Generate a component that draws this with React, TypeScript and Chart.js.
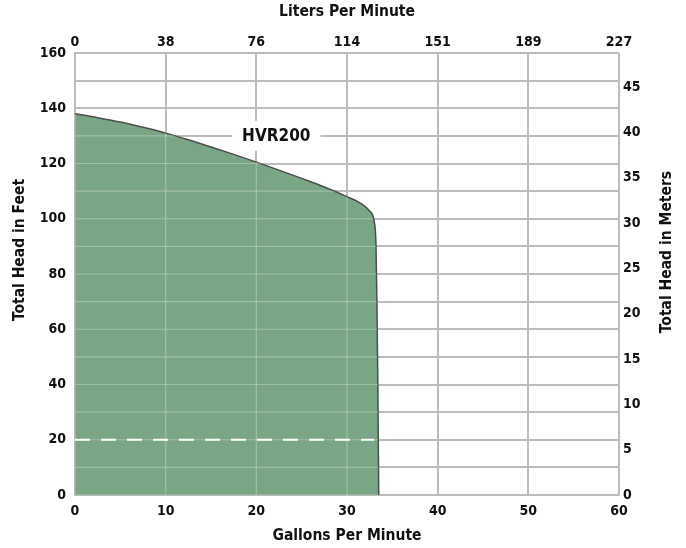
import React, { useEffect, useRef } from "react";
import { Chart, registerables } from "chart.js";

Chart.register(...registerables);

// Pump curve (Gallons Per Minute vs Total Head in Feet)
const gpm = [0, 2.5, 5, 7.5, 10, 12.5, 15, 17.5, 20, 22.5, 25, 27.5, 30, 31.5, 32.5, 33, 33.2, 33.3, 33.4, 33.5];
const headFt = [138, 136.6, 135, 133.1, 131, 128.6, 126, 123.3, 120.5, 117.6, 114.6, 111.5, 108, 105.6, 102.8, 99, 90, 70, 40, 0];

// dashed reference line at 20 ft
const dashGpm = [0, 33];
const dashFt = [20, 20];

const lpmLabels = ["0", "38", "76", "114", "151", "189", "227"];
const curveName = "HVR200";
const curveLabelAt = [22.2, 130];

const xTitle = "Gallons Per Minute";
const x2Title = "Liters Per Minute";
const yTitle = "Total Head in Feet";
const y2Title = "Total Head in Meters";

const FONT = "'DejaVu Sans Condensed', 'Liberation Sans Narrow', 'DejaVu Sans', sans-serif";
const TEXT = "#111111";
const GRID = "#bdbdbd";

export default function App() {
  const ref = useRef<HTMLCanvasElement | null>(null);

  useEffect(() => {
    if (!ref.current) return;
    const tickFont = { family: FONT, size: 14, weight: "bold" as const };

    const overlay = {
      id: "overlay",
      afterDatasetsDraw(chart: any) {
        const { ctx, chartArea, scales } = chart;
        const meta = chart.getDatasetMeta(0);
        const pts = meta.data;
        ctx.save();
        ctx.beginPath();
        ctx.moveTo(pts[0].x, chartArea.bottom);
        for (const p of pts) ctx.lineTo(p.x, p.y);
        ctx.lineTo(pts[pts.length - 1].x, chartArea.bottom);
        ctx.closePath();
        ctx.clip();
        ctx.strokeStyle = "rgba(255,255,255,0.28)";
        ctx.lineWidth = 1.2;
        for (const t of scales.x.ticks) {
          const px = scales.x.getPixelForValue(t.value);
          ctx.beginPath();
          ctx.moveTo(px, chartArea.top);
          ctx.lineTo(px, chartArea.bottom);
          ctx.stroke();
        }
        for (const t of scales.y.ticks) {
          const py = scales.y.getPixelForValue(t.value);
          ctx.beginPath();
          ctx.moveTo(chartArea.left, py);
          ctx.lineTo(chartArea.right, py);
          ctx.stroke();
        }
        ctx.restore();

        // curve label
        ctx.save();
        const lx = scales.x.getPixelForValue(curveLabelAt[0]);
        const ly = scales.y.getPixelForValue(curveLabelAt[1]);
        ctx.font = `bold 17px ${FONT}`;
        const w = ctx.measureText(curveName).width;
        ctx.fillStyle = "#ffffff";
        ctx.fillRect(lx - w / 2 - 10, ly - 15, w + 20, 30);
        ctx.fillStyle = TEXT;
        ctx.textAlign = "center";
        ctx.textBaseline = "middle";
        ctx.fillText(curveName, lx, ly + 1);
        ctx.restore();
      },
      afterDraw(chart: any) {
        const { ctx, chartArea } = chart;
        const cx = (chartArea.left + chartArea.right) / 2;
        ctx.save();
        ctx.font = `bold 15.5px ${FONT}`;
        ctx.fillStyle = TEXT;
        ctx.textAlign = "center";
        ctx.textBaseline = "middle";
        ctx.fillText(x2Title, cx, 12);
        ctx.fillText(xTitle, cx, 536);
        ctx.save();
        ctx.translate(20, 250);
        ctx.rotate(-Math.PI / 2);
        ctx.fillText(yTitle, 0, 0);
        ctx.restore();
        ctx.save();
        ctx.translate(667, 252);
        ctx.rotate(-Math.PI / 2);
        ctx.fillText(y2Title, 0, 0);
        ctx.restore();
        ctx.restore();
      },
    };

    const chart = new Chart(ref.current, {
      type: "line",
      data: {
        datasets: [
          {
            data: gpm.map((x, i) => ({ x, y: headFt[i] })),
            borderColor: "#4d4d4d",
            borderWidth: 1.5,
            backgroundColor: "#7ba686",
            fill: "origin",
            pointRadius: 0,
            cubicInterpolationMode: "monotone",
            order: 1,
          },
          {
            data: dashGpm.map((x, i) => ({ x, y: dashFt[i] })),
            borderColor: "#ffffff",
            borderWidth: 2,
            borderDash: [15, 11],
            pointRadius: 0,
            fill: false,
            order: 0,
          },
        ],
      },
      options: {
        responsive: false,
        animation: false,
        layout: { padding: 0 },
        plugins: { legend: { display: false }, tooltip: { enabled: false } },
        scales: {
          x: {
            type: "linear",
            position: "bottom",
            min: 0,
            max: 60,
            ticks: { stepSize: 10, font: tickFont, color: TEXT, padding: 8 },
            grid: { color: GRID, lineWidth: 2, drawTicks: false },
            border: { color: GRID, width: 2 },
            afterFit: (s: any) => {
              s.height = 53;
            },
          },
          x2: {
            type: "linear",
            position: "top",
            min: 0,
            max: 60,
            ticks: {
              stepSize: 10,
              font: tickFont,
              color: TEXT,
              padding: 2,
              callback: (v: any) => lpmLabels[Math.round(Number(v) / 10)] ?? "",
            },
            grid: { display: false, drawTicks: false },
            border: { display: false },
            afterFit: (s: any) => {
              s.height = 53;
            },
          },
          y: {
            type: "linear",
            position: "left",
            min: 0,
            max: 160,
            ticks: {
              stepSize: 10,
              font: tickFont,
              color: TEXT,
              padding: 9,
              callback: (v: any) => (Number(v) % 20 === 0 ? String(v) : ""),
            },
            grid: { color: GRID, lineWidth: 2, drawTicks: false },
            border: { color: GRID, width: 2 },
            afterFit: (s: any) => {
              s.width = 75;
            },
          },
          y2: {
            type: "linear",
            position: "right",
            min: 0,
            max: 160 / 3.28084,
            ticks: { stepSize: 5, includeBounds: false, font: tickFont, color: TEXT, padding: 4 },
            grid: { display: false, drawTicks: false },
            border: { display: false },
            afterFit: (s: any) => {
              s.width = 67;
            },
          },
        },
      },
      plugins: [overlay],
    } as any);

    return () => chart.destroy();
  }, []);

  return (
    <div style={{ position: "absolute", left: 0, top: 0, width: 686, height: 548 }}>
      <canvas ref={ref} width={686} height={548} style={{ width: 686, height: 548 }} />
    </div>
  );
}
